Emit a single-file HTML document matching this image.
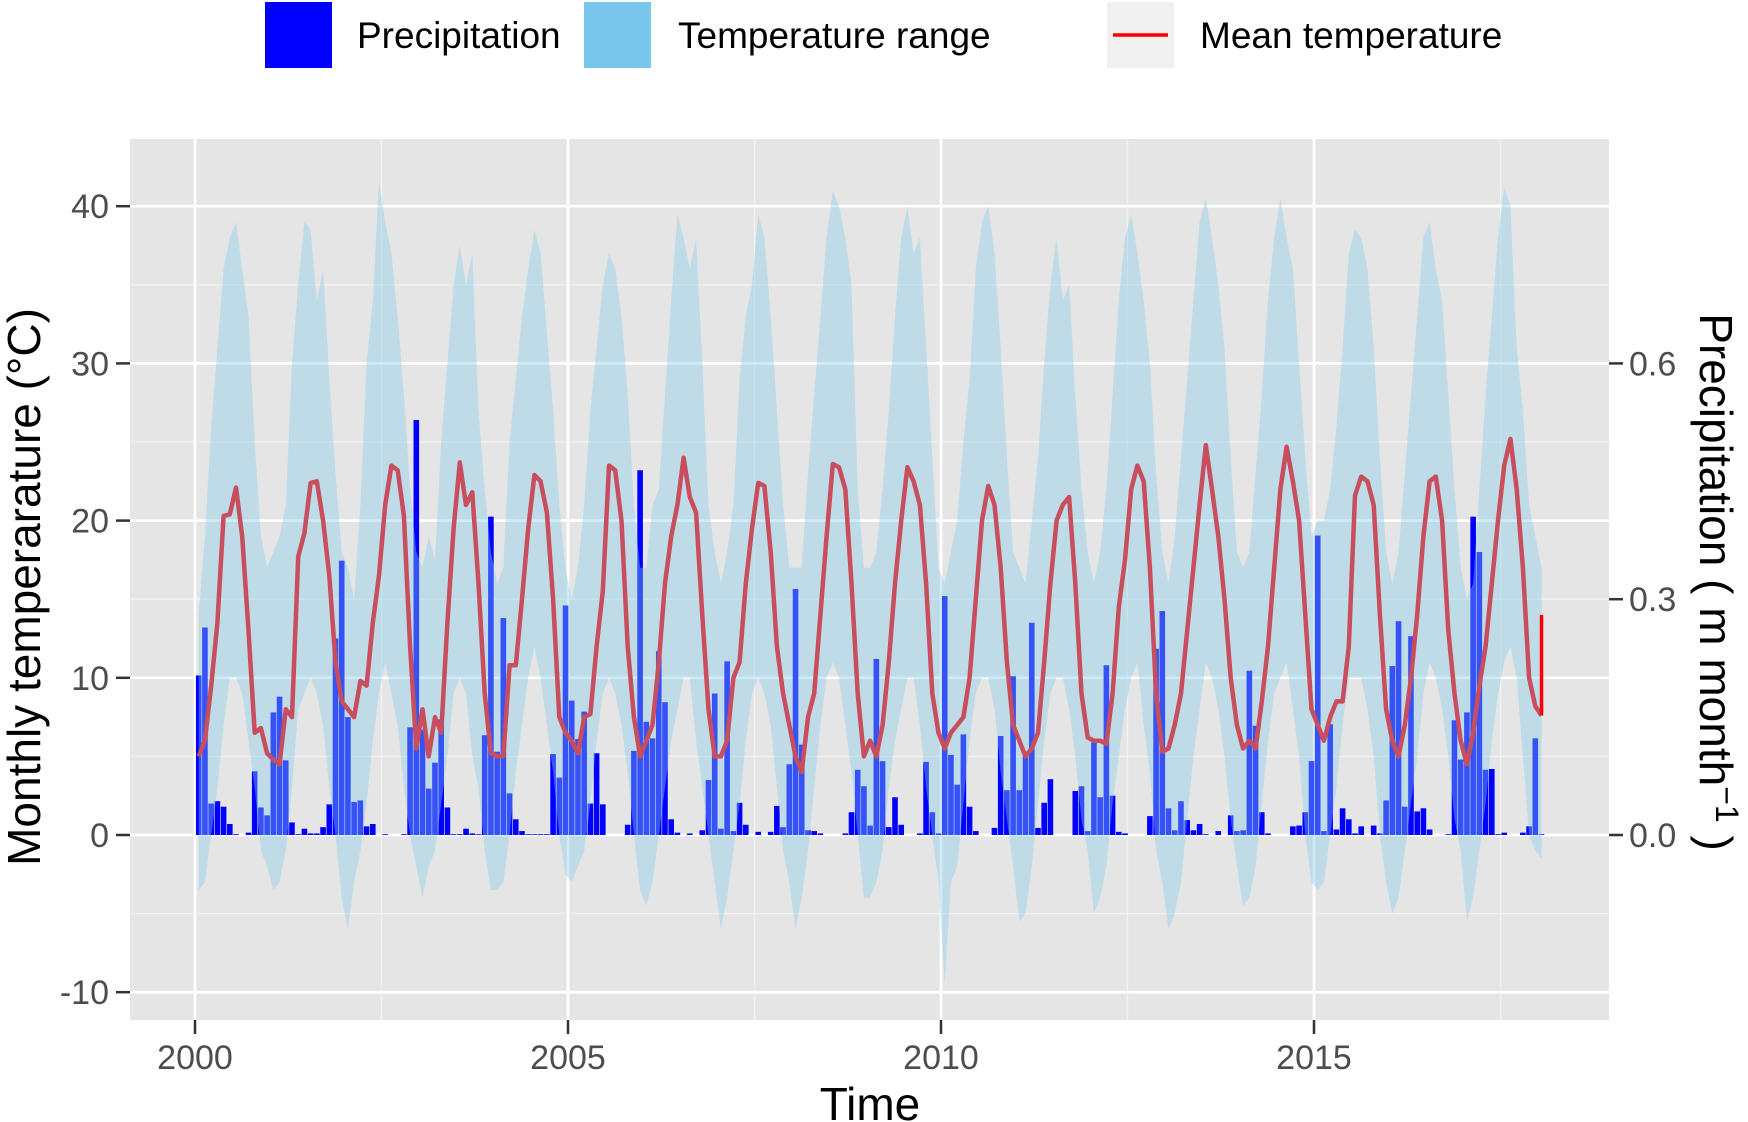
<!DOCTYPE html>
<html><head><meta charset="utf-8"><style>
html,body{margin:0;padding:0;background:#fff;}
svg{display:block;font-family:"Liberation Sans",Arial,sans-serif;}
</style></head><body>
<svg id="chart" width="1748" height="1122" viewBox="0 0 1748 1122" xmlns="http://www.w3.org/2000/svg">
  <g>
    <rect x="265" y="2" width="67" height="66" fill="#0000ff"/>
    <text x="357" y="48" font-size="37" fill="#000">Precipitation</text>
    <rect x="584" y="2" width="67" height="66" fill="#78c6e9"/>
    <text x="678" y="48" font-size="37" fill="#000">Temperature range</text>
    <rect x="1107" y="2" width="67" height="66" fill="#f0f0f0"/>
    <line x1="1113" y1="35" x2="1168" y2="35" stroke="#ff0000" stroke-width="3.5"/>
    <text x="1200" y="48" font-size="37" fill="#000">Mean temperature</text>
  </g>
  <rect x="130" y="139" width="1479" height="881" fill="#e5e5e5"/>
  <g id="grid"></g>
  <g id="bars"></g>
  <g id="ribbon"></g>
  <g id="line"></g>
  <g id="axes"></g>
  <text transform="translate(40,587) rotate(-90)" text-anchor="middle" font-size="46" fill="#000">Monthly temperarature (°C)</text>
  <text transform="translate(1700,582) rotate(90)" text-anchor="middle" font-size="46" fill="#000">Precipitation ( m month<tspan dy="-16" font-size="32">−1</tspan><tspan dy="16"> )</tspan></text>
  <text x="870" y="1120" text-anchor="middle" font-size="46" fill="#000">Time</text>
</svg>
<script>
const startYear = 2000;
const meanT = [
5,6,9.5,13.5,20.3,20.4,22.1,19,13,6.5,6.8,5.2,
4.8,4.5,8,7.5,17.7,19.2,22.4,22.5,20,16.5,11,8.5,
8,7.5,9.8,9.5,13.5,16.5,21,23.5,23.2,20.3,12,5.5,
8,5,7.5,6.5,13.5,19.5,23.7,21,21.8,16,9,5.2,
5,5,10.8,10.8,15,19.5,22.9,22.5,20.5,15,7.5,6.5,
6,5.2,7.5,7.7,12,15.5,23.5,23.2,20,12,7.5,5,
6,7,11,16,19,21,24,21.5,20.5,14,8,5,
5,6,10,11,16,19.5,22.4,22.2,18,12,9,7,
5,4,7.5,9,14,19,23.6,23.4,22,16,9,5,
6,5,7,11,16,20,23.4,22.5,21,16,9,6.5,
5.5,6.5,7,7.5,10,15,20,22.2,21,17,11,7,
6,5,5.5,6.5,11,16,20,21,21.5,16,9,6.2,
6,6,5.8,9,14.5,17.5,22,23.5,22.5,17,9,5.3,
5.5,7,9,13,17,21,24.8,22,19,15,10,7,
5.5,6,5.5,8.5,12,17,22,24.7,22.5,20,14,8,
7,6,7.5,8.5,8.5,12,21.6,22.8,22.5,21,14,8,
6,5,7,10,14,19,22.5,22.8,20,13,9,6,
4.5,6.5,9.5,12,16,20,23.5,25.2,22,17,10,8.2,
7.6];
const maxT = [
14,19,26,31,36,38,39,36,33,25,19,17,
18,19,21,30,35,39,38.5,34,36,29,23,18,
17,15,21,30,34,41.5,39,37,33,28,22,18,
17,19,17.5,25,30,35,37.5,35,37,27,22,18,
16,17,25,29,33,36,38.5,37,32,27,21,17,
15,17,21,27,31,35,37,36,33,28,21,17,
17,21,22,28,34,39.5,38,36,38,30,21,18,
16,18,21,29,33,35,39.5,38,33,27,21,17,
17,17,23,28,33,38,41,40,38,35,22,17,
17,18,22,27,33,38,40,37,38,31,24,17,
16,18,20,25,29,36,39,40,37,31,24,18,
17,16,20,24,30,35,38,34,35,28,22,18,
16,18,22,28,34,38,39.5,37,34,30,23,18,
16,19,24,29,34,39,40.5,38,35,31,24,18,
17,18,23,28,34,38,40.5,38,36,30,24,19,
20,20,22,26,31,37,38.5,38,36,31,24,18,
16,18,23,28,33,38,39,36,34,28,22,17,
15,16,22,28,33,38,41.2,40,31,27,21,19,
17];
const minT = [
-3.5,-3,0,3,7,10,10,9,6,3,-1,-2,
-3.5,-3,-1,3,8,9,10,9,7,3,0,-4,
-6,-3,-1,2,6,9,11,9,7,3,0,-2,
-4,-2,-1,2,5,9,10,9,5,3,-1,-3.5,
-3.5,-3,0,4,7,10,12,10,7,4,0,-2.5,
-3,-2,-1,2,6,9,10,9,7,4,0,-3.5,
-4.5,-3,0,3,6,8,10,10,6,3,0,-3,
-6,-4,-1,2,6,9,10,9,7,3,-1,-3,
-6,-4,-1,3,7,10,11,10,7,4,0,-4,
-4,-3,-1,3,6,8,10,10,7,3,0,-3,
-9.5,-3,-2,2,6,9,10,10,8,4,1,-2,
-5.5,-5,-2,2,6,9,10,10,8,5,1,-1,
-5,-4,-2,2,5,8,10,11,7,4,-1,-3,
-6,-5,-3,1,5,8,11,10,8,5,1,-2,
-4.5,-4,-2,2,6,9,10,11,8,5,0,-3,
-3.5,-3,0,3,7,10,10,10,8,5,0,-3,
-5,-4,-1,2,5,9,11,10,8,5,1,-1,
-5.5,-4,-1,2,6,9,11,12,10,5,0,-1,
-1.5];
const precip = [
.203,.264,.04,.043,.036,.014,.001,0,.003,.081,.035,.025,
.156,.176,.095,.016,.001,.008,.002,.002,.01,.039,.25,.349,
.15,.042,.044,.011,.014,0,.001,0,0,.001,.137,.528,
.134,.059,.092,.147,.035,.001,.001,.008,.002,.001,.127,.405,
.106,.276,.053,.02,.005,.001,.001,.001,.001,.103,.073,.292,
.171,.122,.157,.04,.104,.039,0,0,0,.013,.107,.464,
.144,.123,.234,.169,.02,.003,0,.002,0,.006,.07,.18,
.008,.221,.005,.041,.013,0,.004,0,.004,.037,.01,.09,
.313,.115,.006,.005,.002,0,0,0,.002,.029,.083,.062,
.012,.224,.094,.01,.048,.013,0,0,.002,.093,.029,.002,
.304,.102,.064,.128,.036,.005,0,0,.009,.126,.057,.202,
.057,.104,.27,.009,.041,.071,0,0,0,.056,.062,.005,
.118,.048,.216,.05,.004,.002,0,0,0,.024,.237,.285,
.034,.006,.043,.019,.006,.014,.001,0,.005,0,.025,.005,
.006,.209,.139,.029,.002,0,0,0,.011,.012,.029,.094,
.381,.005,.141,.007,.034,.02,.002,.011,0,.012,.002,.044,
.215,.272,.036,.253,.03,.034,.007,0,0,.001,.146,.096,
.156,.405,.36,.083,.084,.001,.003,0,0,.003,.011,.123,
.001];
const lastMeanTop = 14;
const yTicks = [-10,0,10,20,30,40];
const yMinor = [-5,5,15,25,35];
const y2Ticks = [0.0,0.3,0.6];
const y2Labels = ["0.0","0.3","0.6"];
const xTicks = [2000,2005,2010,2015];
const xMinor = [2002.5,2007.5,2012.5,2017.5];
const precipScale = 50;

const NS = "http://www.w3.org/2000/svg";
const PL = 130, PR = 1609, PT = 139, PB = 1020;
function xs(t){ return 195 + (t - 2000) * 74.6; }
function ys(v){ return 835 - v * 15.72; }
function tAt(i){ return startYear + i / 12 + 0.05; }
function mk(tag, attrs, parent){ const e = document.createElementNS(NS, tag); for (const k in attrs) e.setAttribute(k, attrs[k]); parent.appendChild(e); return e; }

const grid = document.getElementById('grid');
yMinor.forEach(v => { const l = mk('line', {x1:PL, x2:PR, y1:ys(v), y2:ys(v), stroke:'#f2f2f2', 'stroke-width':1.3}, grid);
  
   });
xMinor.forEach(v => { const l = mk('line', {x1:xs(v), x2:xs(v), y1:PT, y2:PB, stroke:'#f2f2f2', 'stroke-width':1.3}, grid);
  
   });
yTicks.forEach(v => { const l = mk('line', {x1:PL, x2:PR, y1:ys(v), y2:ys(v), stroke:'#fff', 'stroke-width':2.7}, grid);
  
   });
xTicks.forEach(v => { const l = mk('line', {x1:xs(v), x2:xs(v), y1:PT, y2:PB, stroke:'#fff', 'stroke-width':2.7}, grid);
  
   });

const bars = document.getElementById('bars');
const bw = 74.6 / 12 * 0.9;
precip.forEach((p, i) => {
  const h = Math.abs(ys(p * precipScale) - ys(0));
  const r = mk('rect', {x: xs(tAt(i)) - bw/2, y: ys(p * precipScale), width: bw, height: Math.max(h, 0.01), fill: '#0000ff'}, bars);
  
  
});

const ribbon = document.getElementById('ribbon');
let d = '';
maxT.forEach((v, i) => { d += (i ? 'L' : 'M') + xs(tAt(i)).toFixed(1) + ',' + ys(v).toFixed(1); });
for (let i = minT.length - 1; i >= 0; i--) d += 'L' + xs(tAt(i)).toFixed(1) + ',' + ys(minT[i]).toFixed(1);
const rp = mk('path', {d: d + 'Z', fill: 'rgb(135,206,235)', 'fill-opacity': 0.4}, ribbon);



const line = document.getElementById('line');
let ld = '';
meanT.forEach((v, i) => { ld += (i ? 'L' : 'M') + xs(tAt(i)).toFixed(1) + ',' + ys(v).toFixed(1); });
const lp = mk('path', {d: ld, fill: 'none', stroke: '#c84e5e', 'stroke-width': 4.5, 'stroke-linejoin': 'round'}, line);


const li = meanT.length - 1;
const lv = mk('line', {x1: xs(tAt(li)), x2: xs(tAt(li)), y1: ys(meanT[li]), y2: ys(lastMeanTop), stroke: '#ff0000', 'stroke-width': 3.5}, line);



const axes = document.getElementById('axes');
yTicks.forEach(v => {
  mk('line', {x1:PL-14, x2:PL, y1:ys(v), y2:ys(v), stroke:'#333', 'stroke-width':2.5}, axes);
  const t = mk('text', {x: PL-21, y: ys(v)+12, 'text-anchor':'end', 'font-size':34, fill:'#4d4d4d'}, axes);
  t.textContent = v;
  
  
});
y2Ticks.forEach((v, i) => {
  const y = ys(v * precipScale);
  mk('line', {x1:PR, x2:PR+14, y1:y, y2:y, stroke:'#333', 'stroke-width':2.5}, axes);
  const t = mk('text', {x: PR+20, y: y+12, 'font-size':34, fill:'#4d4d4d'}, axes);
  t.textContent = y2Labels[i];
  
  
});
xTicks.forEach(v => {
  mk('line', {x1:xs(v), x2:xs(v), y1:PB, y2:PB+14, stroke:'#333', 'stroke-width':2.5}, axes);
  const t = mk('text', {x: xs(v), y: PB+49, 'text-anchor':'middle', 'font-size':34, fill:'#4d4d4d'}, axes);
  t.textContent = v;
  
  
});
</script>
</body></html>
